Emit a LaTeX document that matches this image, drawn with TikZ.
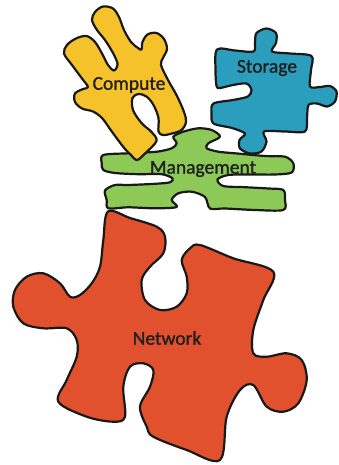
\documentclass[tikz,border=0pt]{standalone}
\usepackage{fontspec}
\setmainfont{Carlito}
\begin{document}
\begin{tikzpicture}[x=1pt,y=-1pt,
  piece/.style={draw=black!90,line width=2.2pt,line join=round},
  lbl/.style={font=\fontsize{19.5}{21}\selectfont\addfontfeature{FakeBold=1.2},text=black!88,inner sep=0pt}]
\definecolor{netred}{HTML}{E1512D}
\definecolor{mgmtgreen}{HTML}{8DC957}
\definecolor{compyellow}{HTML}{F6C22C}
\definecolor{storblue}{HTML}{2B9EBD}
\useasboundingbox (0,0) rectangle (339,465);

% Network piece
\path[piece,fill=netred] plot[smooth cycle,tension=0.55] coordinates {
 (108,211.5) (130,218) (156.7,226.7) (165,236.7) (163.3,253.3) (150,266.7)
 (141.7,280) (145,300) (160,310) (176.7,306.7) (186.7,293.3) (186.7,276.7)
 (181.7,260) (190,248.3) (200,245) (233.3,258.3) (273.3,271.7)
 (263.3,300) (253.3,330) (253.3,353.3) (266.7,356.7) (286.7,353.3)
 (301.7,360) (306.7,380) (298.3,403.3) (283.3,411.7) (266.7,406.7)
 (253.3,385) (240,390) (226.7,416.7) (220,460) (186.7,450) (153.3,436.7)
 (146.7,426.7) (140,406.7) (150,386.7) (153.3,370) (143.3,363.3)
 (130,366.7) (123.3,386.7) (125,416.7) (113.3,421.7) (86.7,416.7)
 (58.3,401.7) (66.7,380) (76.7,356.7) (76.7,340) (66.7,328.3) (43.3,328.3)
 (23.3,323.3) (13.3,306.7) (15,290) (26.7,276.7) (43.3,273.3) (60,283.3)
 (70,296.7) (80,295) (91.7,283.3) (100,266.7) (103.3,240)};

% Management piece
\path[piece,fill=mgmtgreen] plot[smooth cycle,tension=0.5] coordinates {
 (103.3,155) (128.3,153.3) (156.7,151.7) (171.7,148.3) (176.7,143.3)
 (173.3,136.7) (183.3,131.7) (198.3,128.3) (211.7,130) (220,136.7)
 (208.3,143.3) (206.7,148.3) (218.3,151.7) (235,153.3) (265,156)
 (285,156.7) (293.3,163.3) (291.7,172.5) (275,174.5) (251.7,174.5)
 (228.3,175) (217.5,179.5) (223.3,186) (245,187.2) (268.3,188.5)
 (283.3,190) (285,200) (283.3,210) (255,210) (225,208.5) (210,208.5)
 (205,197) (191.7,191.7) (178.3,193.3) (171.7,200) (176.7,207)
 (155,208.3) (128.3,207.3) (108.3,208.3) (106.7,200) (105,190.5)
 (115,185) (128.3,185) (155,183.8) (170,182.3) (172.5,178.3)
 (161.7,174.2) (138.3,174.2) (115,173) (103.3,170) (101.7,163.3)};

% Compute piece
\path[piece,fill=compyellow] plot[smooth cycle,tension=0.55] coordinates {
 (103,6.5) (113,8.5) (119,17) (124,30) (131,42) (138,48) (141.5,49.5)
 (142.5,42) (147.5,34.5) (156.5,33) (164,39) (167,49) (163,58) (161,65)
 (168,80) (177,96) (184,112) (186,122) (181.5,130) (172,133.5) (163,135)
 (158.5,131.5) (158.5,118) (153.5,105) (146.5,96.5) (138.5,94) (132.5,98)
 (133,110) (141.5,123) (151.5,132) (156.5,141) (145,153.5) (137,160)
 (131,155) (125,149) (118,140) (110,129) (102,118) (93,111.5) (82,108.5)
 (75,102) (75,93.5) (83,89) (88,87) (82,78.5) (72,65) (64,53.5) (67,45)
 (76,38.5) (86.5,36) (95,42) (102,53.5) (108,65) (114,70.5) (117.5,64)
 (113,53) (105,40) (97,30) (92,20) (95,12)};

% Storage piece
\path[piece,fill=storblue] plot[smooth cycle,tension=0.5] coordinates {
 (217,49.5) (235,50.5) (253.5,51.5) (255,42) (256.5,33) (266.5,28.5)
 (276,33) (276,43) (272,51.5) (290,53.5) (311.5,56) (311,70) (310,86.5)
 (320,87) (330,86) (336.5,91.5) (335,101.5) (327,106.5) (317,103.5)
 (308.5,105) (307,118) (305,131.5) (285,131.5) (264,131.5) (266.5,141.5)
 (261.5,151.5) (250,153.5) (240,148.5) (239.5,140) (245,133.5) (232,128)
 (213.5,123.5) (211.5,113) (213.5,103.5) (233,100) (248,96.5) (251.5,90)
 (246.5,83.5) (233,85) (220,88) (216.5,86) (215.5,70)};

% Labels
\node[lbl] (compute) at (129,85) {Compute};
\node[lbl] (storage) at (267,68) {Storage};
\node[lbl] (mgmt) at (203,169) {Management};
\node[lbl] (network) at (167,338) {Network};
\end{tikzpicture}
\end{document}
